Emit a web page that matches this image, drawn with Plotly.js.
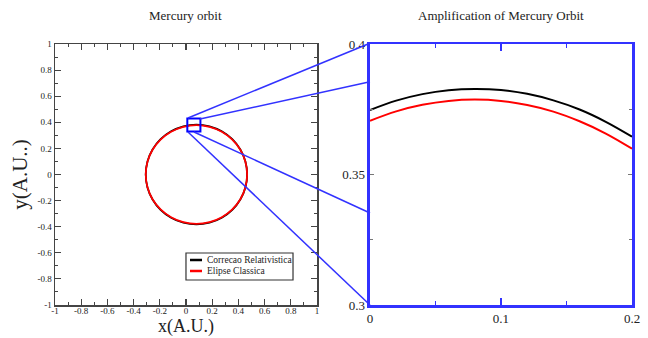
<!DOCTYPE html>
<html><head><meta charset="utf-8">
<script src="https://cdn.plot.ly/plotly-3.0.1.min.js"></script>
<style>html,body{margin:0;padding:0;background:#fff}#g{width:648px;height:338px}</style>
</head><body><div id="g"></div>
<script>
// Full orbit — classical ellipse
const orbitX = [0.4666,0.4534,0.4147,0.3533,0.2731,0.1798,0.0796,-0.0206,-0.1139,-0.1941,-0.2555,-0.2942,-0.3074,-0.2942,-0.2555,-0.1941,-0.1139,-0.0206,0.0796,0.1798,0.2731,0.3533,0.4147,0.4534,0.4666];
const orbitYred = [0,0.0980,0.1894,0.2678,0.3280,0.3658,0.3787,0.3658,0.3280,0.2678,0.1894,0.0980,0,-0.0980,-0.1894,-0.2678,-0.3280,-0.3658,-0.3787,-0.3658,-0.3280,-0.2678,-0.1894,-0.0980,0];
const orbitYblack = [0,0.0990,0.1914,0.2706,0.3314,0.3696,0.3828,0.3696,0.3314,0.2706,0.1914,0.0990,0,-0.0990,-0.1914,-0.2706,-0.3314,-0.3696,-0.3828,-0.3696,-0.3314,-0.2706,-0.1914,-0.0990,0];
// Zoomed window
const zoomX = [0,0.02,0.04,0.06,0.08,0.10,0.12,0.14,0.16,0.18,0.20];
const zoomRed = [0.3706,0.3742,0.3767,0.3782,0.3787,0.3782,0.3766,0.3741,0.3704,0.3657,0.3599];
const zoomBlack = [0.3747,0.3783,0.3808,0.3823,0.3828,0.3824,0.3809,0.3784,0.3749,0.3702,0.3645];
const leftTicks = [-1,-0.8,-0.6,-0.4,-0.2,0,0.2,0.4,0.6,0.8,1];
const leftTickText = ['-1','-0.8','-0.6','-0.4','-0.2','0','0.2','0.4','0.6','0.8','1'];
const rightXTicks = [0,0.1,0.2];
const rightXText = ['0','0.1','0.2'];
const rightYTicks = [0.3,0.35,0.4];
const rightYText = ['0.3','0.35','0.4'];
const seriesNames = ['Correcao Relativistica','Elipse Classica'];
const seriesColors = ['#000000','#ff0000'];

const serif = 'Liberation Serif';
const traces = [
  {x: orbitX, y: orbitYblack, xaxis:'x', yaxis:'y', mode:'lines', line:{color:seriesColors[0], width:1.8, shape:'spline'}, name: seriesNames[0], showlegend:false},
  {x: orbitX, y: orbitYred, xaxis:'x', yaxis:'y', mode:'lines', line:{color:seriesColors[1], width:1.8, shape:'spline'}, name: seriesNames[1], showlegend:false},
  {x: zoomX, y: zoomBlack, xaxis:'x2', yaxis:'y2', mode:'lines', line:{color:seriesColors[0], width:2, shape:'spline'}, showlegend:false},
  {x: zoomX, y: zoomRed, xaxis:'x2', yaxis:'y2', mode:'lines', line:{color:seriesColors[1], width:2, shape:'spline'}, showlegend:false}
];
const blue = 'rgb(50,50,255)';
const leftAxis = {linecolor:'#444', linewidth:1.5, mirror:'allticks', ticks:'inside', ticklen:6, tickcolor:'#444', tickwidth:1.2,
  showgrid:false, zeroline:false, tickfont:{family:serif, size:9, color:'#222'},
  minor:{dtick:0.1, ticks:'inside', ticklen:3, tickcolor:'#444', tickwidth:1}};
// legend box (drawn by hand to match compact look)
const lg = {x0:0.2270, x1:0.4125, y0:0.0958, y1:0.1992, lx0:0.2340, lx1:0.2548, tx:0.2600, ys:[0.1724,0.1303]};
const shapes = [
  {type:'rect', xref:'x', yref:'y', x0:0.01, x1:0.11, y0:0.33, y1:0.43, line:{color:'#0000ff', width:2}},
  {type:'line', xref:'paper', yref:'paper', x0:0.2305, y0:0.7165, x1:0.5425, y1:1.0, line:{color:blue, width:1.5}},
  {type:'line', xref:'paper', yref:'paper', x0:0.2513, y0:0.7126, x1:0.5459, y1:0.855, line:{color:blue, width:1.5}},
  {type:'line', xref:'paper', yref:'paper', x0:0.2409, y0:0.6628, x1:0.5459, y1:0.3525, line:{color:blue, width:1.5}},
  {type:'line', xref:'paper', yref:'paper', x0:0.2305, y0:0.6628, x1:0.5459, y1:0.0, line:{color:blue, width:1.5}},
  {type:'rect', xref:'paper', yref:'paper', x0:lg.x0, x1:lg.x1, y0:lg.y0, y1:lg.y1, line:{color:'#333', width:1.2}, fillcolor:'#fff', layer:'above'}
];
const annotations = [
  {text:'Mercury orbit', xref:'paper', yref:'paper', x:0.227, y:1.11, xanchor:'center', yanchor:'middle', showarrow:false, font:{family:serif, size:13, color:'#222'}},
  {text:'Amplification of Mercury Orbit', xref:'paper', yref:'paper', x:0.773, y:1.11, xanchor:'center', yanchor:'middle', showarrow:false, font:{family:serif, size:13, color:'#222'}},
  {text:'x(A.U.)', xref:'paper', yref:'paper', x:0.227, y:-0.083, xanchor:'center', yanchor:'middle', showarrow:false, borderpad:0, font:{family:serif, size:18, color:'#222'}},
  {text:'y(A.U..)', xref:'paper', yref:'paper', x:-0.062, y:0.5, xanchor:'center', yanchor:'middle', textangle:-90, showarrow:false, font:{family:serif, size:21, color:'#222'}}
];
seriesNames.forEach((n, i) => {
  shapes.push({type:'line', xref:'paper', yref:'paper', x0:lg.lx0, x1:lg.lx1, y0:lg.ys[i], y1:lg.ys[i], line:{color:seriesColors[i], width:2.5}, layer:'above'});
  annotations.push({text:n, xref:'paper', yref:'paper', x:lg.tx, y:lg.ys[i], xanchor:'left', yanchor:'middle', showarrow:false, font:{family:serif, size:9.5, color:'#222'}});
});
const layout = {
  width:648, height:338, paper_bgcolor:'#fff', plot_bgcolor:'#fff',
  font:{family:serif, color:'#222'},
  margin:{l:55, r:16, t:44, b:33},
  showlegend:false,
  xaxis: Object.assign({}, leftAxis, {domain:[0,0.4541], range:[-1,1], tickvals:leftTicks, ticktext:leftTickText, anchor:'y', ticklabelstandoff:-3}),
  yaxis: Object.assign({}, leftAxis, {domain:[0,1], range:[-1,1], tickvals:leftTicks, ticktext:leftTickText, anchor:'x'}),
  xaxis2:{domain:[0.5459,1], range:[0,0.2], anchor:'y2', tickvals:rightXTicks, ticktext:rightXText, linecolor:blue, linewidth:2.5, mirror:'allticks',
    ticks:'inside', ticklen:7, tickcolor:blue, tickwidth:2, showgrid:false, zeroline:false, tickfont:{family:serif, size:13, color:'#222'},
    minor:{dtick:0.05, ticks:'inside', ticklen:4, tickcolor:blue, tickwidth:1.5}},
  yaxis2:{domain:[0,1], range:[0.3,0.4], anchor:'x2', tickvals:rightYTicks, ticktext:rightYText, linecolor:blue, linewidth:2.5, mirror:'allticks',
    ticks:'inside', ticklen:4, tickcolor:'#777', tickwidth:1, showgrid:false, zeroline:false, tickfont:{family:serif, size:13, color:'#222'},
    minor:{dtick:0.025, ticks:'inside', ticklen:3, tickcolor:'#777', tickwidth:1}},
  shapes: shapes,
  annotations: annotations
};
Plotly.newPlot('g', traces, layout, {displayModeBar:false, staticPlot:true});
</script></body></html>
